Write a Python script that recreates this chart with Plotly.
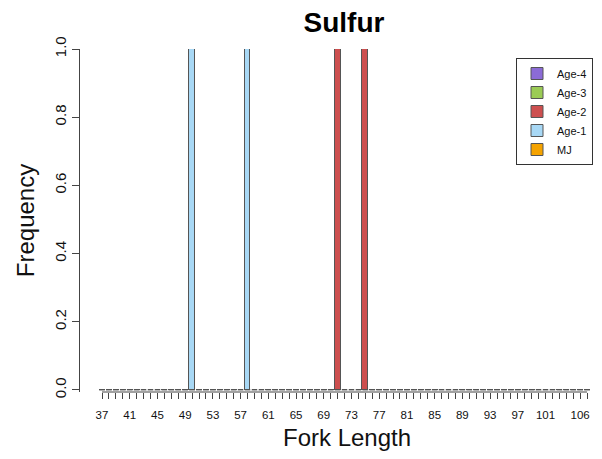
import plotly.graph_objects as go

# ---- data ----
fork_lengths = list(range(37, 108))
tick_labels = [37, 41, 45, 49, 53, 57, 61, 65, 69, 73, 77, 81, 85, 89, 93, 97, 101, 106]
series_names = ["Age-4", "Age-3", "Age-2", "Age-1", "MJ"]
series_colors = ["#8B6BD6", "#9BCB55", "#CD4F4F", "#A8D8F5", "#F5A300"]
# frequencies per fork length for each series (non-zero entries only)
age4_freq = {}
age3_freq = {}
age2_freq = {71: 1.0, 75: 1.0}
age1_freq = {50: 1.0, 58: 1.0}
mj_freq = {}
series_values = [age4_freq, age3_freq, age2_freq, age1_freq, mj_freq]

FONT = "Liberation Sans, Arial, sans-serif"
bar_w = 1 / 1.2

W, H = 594, 451   # page has an 8px body margin
L, T, B = 72, 41, 67
PW, PH = W - L, H - T - B

fig = go.Figure()

# zero-height bars in R barplot appear as short segments at y=0
seg_x, seg_y = [], []
for c in fork_lengths:
    seg_x += [c - bar_w / 2, c + bar_w / 2, None]
    seg_y += [0, 0, None]
fig.add_trace(go.Scatter(x=seg_x, y=seg_y, mode="lines",
                         line=dict(color="#555555", width=1),
                         showlegend=False, hoverinfo="skip"))

# stacking order bottom->top: MJ, Age-1, Age-2, Age-3, Age-4
for name, color, vals in reversed(list(zip(series_names, series_colors, series_values))):
    fig.add_trace(go.Bar(
        x=fork_lengths, y=[vals.get(c, 0) for c in fork_lengths],
        name=name, width=bar_w,
        marker=dict(color=color, line=dict(color="#555555", width=1)),
    ))

fig.add_shape(type="line", xref="x", yref="paper",
              x0=fork_lengths[0], x1=fork_lengths[-1], y0=0, y1=0,
              line=dict(color="#444444", width=1))

fig.add_annotation(text="Fork Length", xref="paper", yref="paper",
                   x=(339 - L) / PW, y=(H - B - 429) / PH,
                   xanchor="center", yanchor="middle", showarrow=False,
                   font=dict(size=24, family=FONT, color="#111111"))

fig.update_layout(
    width=W, height=H,
    barmode="stack",
    bargap=0,
    plot_bgcolor="white", paper_bgcolor="white",
    margin=dict(l=L, r=0, t=T, b=B, autoexpand=False),
    font=dict(family=FONT, color="#111111"),
    title=dict(text="<b>Sulfur</b>", font=dict(size=28, family=FONT, color="#000000"),
               x=336 / W, xref="container", xanchor="center",
               y=1 - 4 / H, yref="container", yanchor="top", pad=dict(t=0)),
    xaxis=dict(
        automargin=False,
        range=[37 - 22 / 6.93, 37 + PW / 6.93 - 22 / 6.93],
        tickmode="array", tickvals=fork_lengths,
        ticktext=[str(c) if c in tick_labels else "" for c in fork_lengths],
        ticks="outside", ticklen=6, tickcolor="#444444", tickwidth=1,
        ticklabelstandoff=6,
        tickfont=dict(size=11.5, family=FONT, color="#111111"),
        showline=False, showgrid=False, zeroline=False,
    ),
    yaxis=dict(
        automargin=False,
        range=[-0.006, 1.0],
        tickmode="array", tickvals=[0, 0.2, 0.4, 0.6, 0.8, 1.0],
        tickformat=".1f", tickangle=-90,
        ticks="outside", ticklen=7, tickcolor="#444444", tickwidth=1,
        tickfont=dict(size=15, family=FONT, color="#111111"),
        showline=True, linecolor="#444444", linewidth=1,
        showgrid=False, zeroline=False,
        title=dict(text="Frequency", font=dict(size=24, family=FONT, color="#111111"),
                   standoff=10),
    ),
    legend=dict(
        x=(508 - L) / PW, xanchor="left",
        y=(H - B - 50) / PH, yanchor="top",
        traceorder="reversed",
        bordercolor="#333333", borderwidth=1, bgcolor="white",
        font=dict(size=11, family=FONT, color="#111111"),
        tracegroupgap=0, itemwidth=30,
    ),
)

fig.write_html("out.html")
